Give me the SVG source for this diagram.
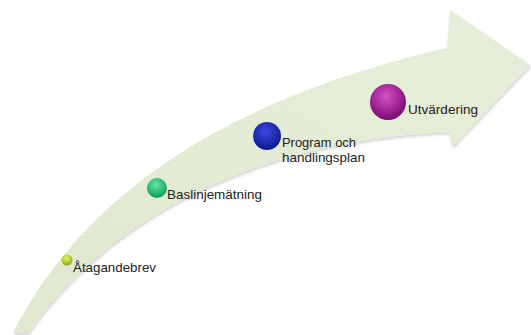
<svg xmlns="http://www.w3.org/2000/svg" width="531" height="335" viewBox="0 0 531 335">
<style>
.lbl{font-family:"Liberation Sans","Open Sans",Arial,sans-serif;font-size:13px;fill:#222}
</style>
<defs>
<linearGradient id="arrowFill" x1="0" y1="1" x2="1" y2="0">
<stop offset="0" stop-color="#e0e9cf"/>
<stop offset="1" stop-color="#e6eed9"/>
</linearGradient>
<radialGradient id="gY" cx="0.45" cy="0.35" r="0.65"><stop offset="0" stop-color="#e6f56a"/><stop offset="1" stop-color="#8fb010"/></radialGradient>
<radialGradient id="gG" cx="0.45" cy="0.35" r="0.65"><stop offset="0" stop-color="#5fe8a8"/><stop offset="1" stop-color="#119a5a"/></radialGradient>
<radialGradient id="gB" cx="0.45" cy="0.35" r="0.65"><stop offset="0" stop-color="#3d46e6"/><stop offset="1" stop-color="#0b1a8a"/></radialGradient>
<radialGradient id="gP" cx="0.45" cy="0.35" r="0.65"><stop offset="0" stop-color="#d650c8"/><stop offset="1" stop-color="#7a0a70"/></radialGradient>
<filter id="sh" x="-10%" y="-10%" width="130%" height="130%"><feDropShadow dx="1" dy="2" stdDeviation="1.5" flood-color="#000" flood-opacity="0.18"/></filter>
</defs>
<g id="arrow">
<path d="M13,333 C80,200 220,100 447,48 L450,10 L530,65 L452,147 L449,132 C260,140 110,215 28,333 Z" fill="url(#arrowFill)" filter="url(#sh)"/>
</g>
<g id="node-atagandebrev">
<circle cx="67" cy="260" r="5.5" fill="url(#gY)"/>
<text class="lbl" x="73" y="272" textLength="83" lengthAdjust="spacingAndGlyphs">Åtagandebrev</text>
</g>
<g id="node-baslinje">
<circle cx="157" cy="188" r="10" fill="url(#gG)"/>
<text class="lbl" x="167" y="199" textLength="95" lengthAdjust="spacingAndGlyphs">Baslinjemätning</text>
</g>
<g id="node-program">
<circle cx="267" cy="136" r="14" fill="url(#gB)"/>
<text class="lbl" x="282" y="147" textLength="74" lengthAdjust="spacingAndGlyphs">Program och</text>
<text class="lbl" x="282" y="162" textLength="83" lengthAdjust="spacingAndGlyphs">handlingsplan</text>
</g>
<g id="node-utvardering">
<circle cx="388" cy="102" r="18" fill="url(#gP)"/>
<text class="lbl" x="408" y="114" textLength="70" lengthAdjust="spacingAndGlyphs">Utvärdering</text>
</g>
<g id="connectors"></g>
</svg>
